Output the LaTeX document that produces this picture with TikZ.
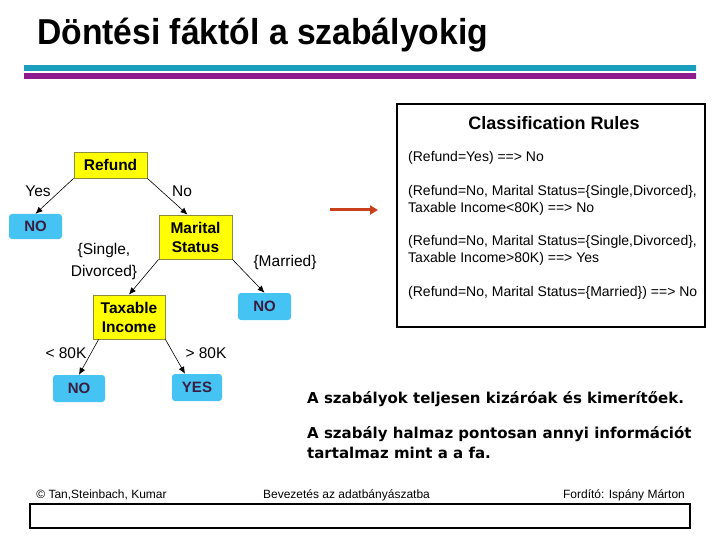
\documentclass[tikz,border=0pt]{standalone}
\usepackage{graphicx}
\usepackage{fontspec}
\setmainfont{Liberation Sans}
\newfontfamily\verd{DejaVu Sans}
\usetikzlibrary{arrows.meta}
\definecolor{ybox}{HTML}{FFFF00}
\definecolor{yborder}{HTML}{8C8C3C}
\definecolor{bbox}{HTML}{45C3F2}
\definecolor{btext}{HTML}{3A1D40}
\definecolor{redarrow}{HTML}{C8401C}
\definecolor{cyanend}{HTML}{1A9EBE}
\definecolor{cyanmid}{HTML}{2AC2DE}
\definecolor{magend}{HTML}{8E1C8E}
\definecolor{magmid}{HTML}{D62AD6}
\tikzset{
 dec/.style={draw=yborder, fill=ybox, line width=0.8pt, minimum width=73pt, align=center,
   font=\fontsize{15.5}{19}\selectfont\bfseries, inner sep=0pt},
 leaf/.style={fill=bbox, rounded corners=3pt, minimum width=53pt, minimum height=26pt,
   font=\fontsize{15}{18}\selectfont\bfseries, text=btext, inner sep=0pt},
 lbl/.style={font=\fontsize{15.5}{22}\selectfont, align=center, inner sep=0pt},
 edge/.style={-{Latex[length=7pt,width=6pt]}, line width=0.6pt},
 rulet/.style={anchor=west, font=\fontsize{14}{17}\selectfont, align=left, inner sep=0pt},
 foot/.style={font=\fontsize{12}{14}\selectfont, inner sep=0pt},
 note/.style={anchor=west, align=left, font=\verd\bfseries\fontsize{15}{20}\selectfont, inner sep=0pt},
}
\begin{document}
\begin{tikzpicture}[x=1pt,y=-1pt]
\fill[white] (0,0) rectangle (720,540);
\useasboundingbox (0,0) rectangle (720,540);

% title
\node[anchor=base west, font=\fontsize{34}{40}\selectfont\bfseries, inner sep=0pt] (title) at (37,45)
  {\scalebox{0.99}[1.06]{Döntési fáktól a szabályokig}};
\shade[left color=cyanend, middle color=cyanmid, right color=cyanend] (24,66) rectangle (696,71);
\shade[left color=magend, middle color=magmid, right color=magend] (24,74) rectangle (696,78.5);

% tree
\node[dec, minimum height=26pt] (refund) at (110.5,165) {Refund};
\node[leaf, minimum height=25pt] (no1) at (35.5,226.5) {NO};
\node[dec, minimum height=44pt] (marital) at (195.5,237) {Marital\\Status};
\node[dec, minimum height=44pt, minimum width=72pt] (taxable) at (129,317) {Taxable\\Income};
\node[leaf, minimum height=27pt] (no2) at (264.5,306.5) {NO};
\node[leaf, minimum width=52pt, minimum height=27pt] (no3) at (79,388.5) {NO};
\node[leaf, minimum width=50pt, minimum height=27pt] (yes) at (197,387.5) {YES};

\node[lbl] (lyes) at (38,191) {Yes};
\node[lbl] (lno) at (182,191) {No};
\node[lbl] (lsd) at (104,261) {\{Single,\\Divorced\}};
\node[lbl] (lmar) at (285,262) {\{Married\}};
\node[lbl] (llt) at (66,353) {< 80K};
\node[lbl] (lgt) at (206,353) {> 80K};

\draw[edge] (refund.south west) -- (no1.north);
\draw[edge] (refund.south east) -- ([xshift=-8pt]marital.north);
\draw[edge] (marital.south west) -- (taxable.north);
\draw[edge] (marital.south east) -- (no2.north);
\draw[edge] ([xshift=6pt]taxable.south west) -- (no3.north);
\draw[edge] (taxable.south east) -- ([xshift=-12pt]yes.north);

% red arrow
\coordinate (ra) at (330,210);
\coordinate (rb) at (378,210);
\draw[redarrow, line width=3pt, -{Triangle[length=8pt,width=9pt]}] (ra) -- (rb);

% rules box
\node[draw, line width=1.2pt, minimum width=308pt, minimum height=223pt, inner sep=0pt] (rules) at (551,215.5) {};
\node[font=\fontsize{18}{20}\selectfont\bfseries, inner sep=0pt] (rtitle) at (554,123) {Classification Rules};
\node[rulet] (r1) at (408,158) {(Refund=Yes) ==> No};
\node[rulet] (r2) at (408,200.5) {(Refund=No, Marital Status=\{Single,Divorced\},\\Taxable Income<80K) ==> No};
\node[rulet] (r3) at (408,250.5) {(Refund=No, Marital Status=\{Single,Divorced\},\\Taxable Income>80K) ==> Yes};
\node[rulet] (r4) at (408,293) {(Refund=No, Marital Status=\{Married\}) ==> No};

% notes
\node[note] (t1) at (307,399) {A szabályok teljesen kizáróak és kimerítőek.};
\node[note] (t2) at (307,443) {A szabály halmaz pontosan annyi információt\\tartalmaz mint a a fa.};

% footer
\node[foot] (f1) at (101.5,495) {© Tan,Steinbach, Kumar};
\node[foot] (f2) at (346.5,495) {Bevezetés az adatbányászatba};
\node[foot] (f3) at (624,495) {Fordító: Ispány Márton};
\draw[line width=2pt] (30,503.5) rectangle (690,527.5);
\end{tikzpicture}
\end{document}
